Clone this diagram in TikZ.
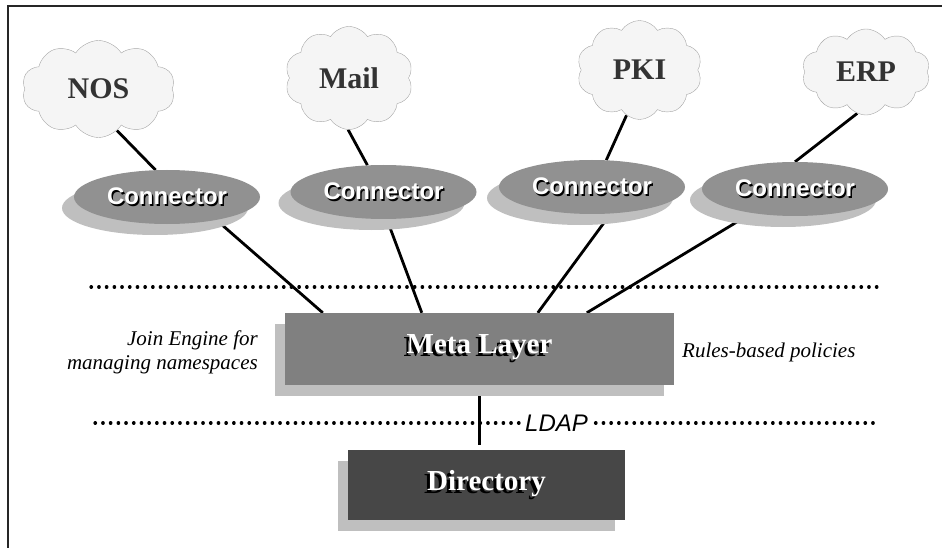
\documentclass[tikz,border=0pt]{standalone}
\usepackage{fontspec}
\setmainfont{Liberation Serif}
\setsansfont{Liberation Sans}
\usetikzlibrary{shapes.symbols,shapes.geometric,shadows,backgrounds,positioning}

\definecolor{metagray}{gray}{0.5}
\definecolor{dirgray}{gray}{0.28}
\definecolor{conngray}{gray}{0.57}
\definecolor{shadegray}{gray}{0.75}
\definecolor{cloudgray}{gray}{0.96}
\definecolor{cloudline}{gray}{0.65}
\definecolor{cloudtext}{gray}{0.2}

% white text with a black copy behind it
\newcommand{\shtext}[3]{\leavevmode\rlap{\hspace{#1}\raisebox{#2}{\color{black}#3}}{\color{white}#3}}

\tikzset{
  cloudnode/.style={cloud, cloud puffs=10, cloud puff arc=115, cloud ignores aspect,
    draw=cloudline, fill=cloudgray, inner sep=0pt, text=cloudtext,
    font=\fontsize{30}{34}\selectfont\bfseries},
  connnode/.style={ellipse, fill=conngray, minimum width=186pt, minimum height=54pt,
    inner sep=0pt, font=\sffamily\bfseries\fontsize{24}{28}\selectfont,
    drop shadow={shadow xshift=-12pt, shadow yshift=-11pt, fill=shadegray, opacity=1}},
  boxnode/.style={rectangle, inner sep=0pt, font=\fontsize{29}{33}\selectfont\bfseries,
    drop shadow={shadow xshift=-10pt, shadow yshift=-11pt, fill=shadegray, opacity=1}},
  link/.style={line width=2.8pt, black},
  dotline/.style={line width=3.2pt, line cap=round, dash pattern=on 0.5pt off 7.2pt},
  sidenote/.style={font=\fontsize{21}{24}\selectfont\itshape, align=right, inner sep=0pt}
}

\begin{document}
\begin{tikzpicture}[x=1pt,y=-1pt]
  \useasboundingbox (0,0) rectangle (942,548);
  \draw[line width=2pt, gray!30!black] (8,548) -- (8,6) -- (942,6);

  % separators
  \draw[dotline] (91,287) -- (882,287);
  \draw[dotline] (95,423) -- (880,423);

  % systems
  \node[cloudnode, minimum width=153pt, minimum height=97pt] (nos) at (98.5,89) {NOS};
  \node[cloudnode, minimum width=128pt, minimum height=103pt] (mail) at (349,78) {Mail};
  \node[cloudnode, minimum width=125pt, minimum height=99pt] (pki) at (639.5,70) {PKI};
  \node[cloudnode, minimum width=128pt, minimum height=86pt] (erp) at (866,72) {ERP};

  % connectors
  \node[connnode] (nosc) at (167,197) {\shtext{1.5pt}{-1.5pt}{Connector}\hspace{10pt}};
  \node[connnode] (mailc) at (383.5,192) {\shtext{1.5pt}{-1.5pt}{Connector}\hspace{10pt}};
  \node[connnode] (pkic) at (592,187) {\shtext{1.5pt}{-1.5pt}{Connector}\hspace{10pt}};
  \node[connnode] (erpc) at (795,189) {\shtext{1.5pt}{-1.5pt}{Connector}\hspace{6pt}};

  % layers
  \node[boxnode, fill=metagray, minimum width=389pt, minimum height=72pt] (meta) at (479.5,349)
    {\shtext{-3pt}{-3pt}{Meta Layer}\hspace{10pt}};
  \node[boxnode, fill=dirgray, minimum width=277pt, minimum height=70pt] (dir) at (486.5,485)
    {\shtext{-3pt}{-3pt}{Directory}\hspace{14pt}};

  \coordinate (mt1) at ([xshift=38pt]meta.north west);
  \coordinate (mt2) at ([xshift=137pt]meta.north west);
  \coordinate (mt3) at ([xshift=253pt]meta.north west);
  \coordinate (mt4) at ([xshift=302pt]meta.north west);

  \node[sidenote, anchor=east] (join) at (258,352) {Join Engine for\\managing namespaces};
  \node[sidenote, anchor=west] (rules) at (682,352) {Rules-based policies};
  \node[fill=white, inner sep=2pt, font=\sffamily\itshape\fontsize{24}{28}\selectfont] (ldap)
    at (556.5,423) {LDAP};

  \begin{scope}[on background layer]
    \draw[link] (nos.-66) -- (nosc.113);
    \draw[link] (mail.-91) -- (mailc.121);
    \draw[link] (pki.-106) -- (pkic.62);
    \draw[link] (erp.-102) -- (erpc.90);
    \draw[link] (nosc.-25) -- (mt1);
    \draw[link] (mailc.-83) -- (mt2);
    \draw[link] (pkic.-55) -- (mt3);
    \draw[link] (erpc.-151) -- (mt4);
    \draw[link, shorten >=5pt] (meta.south) -- (dir.north -| meta.south);
  \end{scope}
\end{tikzpicture}
\end{document}
